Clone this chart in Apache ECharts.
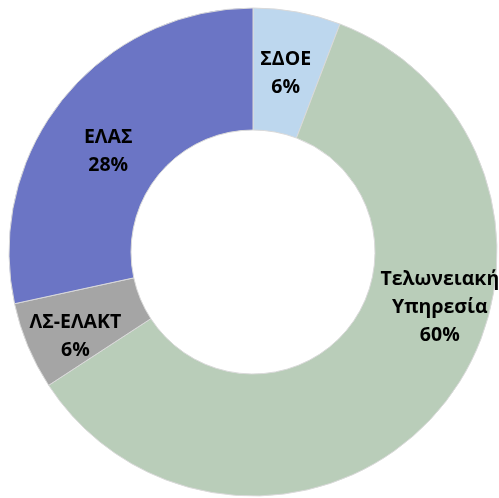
<!DOCTYPE html>
<html><head><meta charset="utf-8">
<script src="https://cdn.jsdelivr.net/npm/echarts@6/dist/echarts.min.js"></script>
<style>html,body{margin:0;padding:0;background:#fff}#c{width:499px;height:498px}</style>
</head><body><div id="c"></div>
<script>
const categories = ['ΣΔΟΕ', 'Τελωνειακή\nΥπηρεσία', 'ΛΣ-ΕΛΑΚΤ', 'ΕΛΑΣ'];
const values = [5.8, 60.0, 5.8, 28.4];
const colors = ['#BDD7EE', '#B9CDB9', '#A5A5A5', '#6B75C5'];
const labelShift = [[-1, 4], [42, -61], [-6, 13], [0, 16]];

const chart = echarts.init(document.getElementById('c'), null, {renderer: 'canvas'});
chart.setOption({
  animation: false,
  series: [{
    type: 'pie',
    center: [253, 252],
    radius: [122, 244],
    startAngle: 90,
    clockwise: true,
    data: categories.map((n, i) => ({name: n, value: values[i], itemStyle: {color: colors[i]}})),
    itemStyle: {borderColor: '#D9D9D9', borderWidth: 1},
    label: {
      show: true,
      position: 'inside',
      formatter: p => p.name + '\n' + Math.round(p.value) + '%',
      fontFamily: 'Open Sans',
      fontWeight: 'bold',
      fontSize: 19.5,
      lineHeight: 28,
      color: '#000'
    },
    labelLine: {show: false},
    labelLayout: p => ({dx: labelShift[p.dataIndex][0], dy: labelShift[p.dataIndex][1]}),
    emphasis: {disabled: true}
  }]
});
</script></body></html>
